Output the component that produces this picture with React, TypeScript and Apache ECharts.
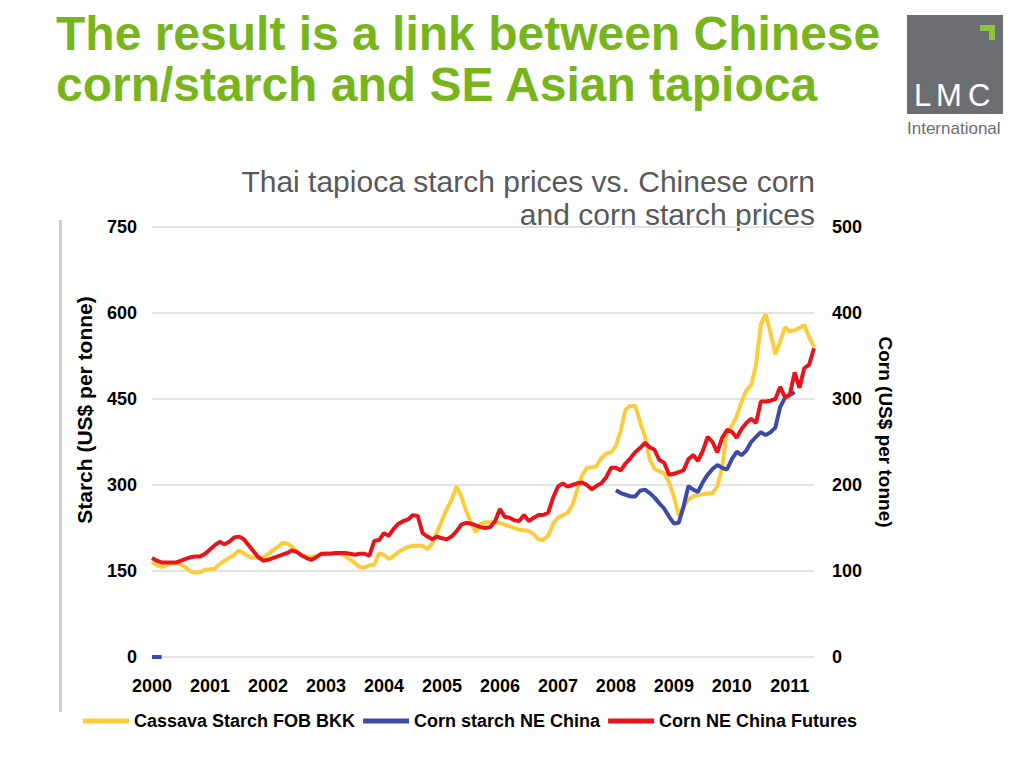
import React, { useEffect, useRef } from "react";
import * as echarts from "echarts";

const years = ["2000", "2001", "2002", "2003", "2004", "2005", "2006", "2007", "2008", "2009", "2010", "2011"];
const monthCount = 138;

const cassavaStarch = [
  166, 160, 157, 160, 163, 164, 161, 156, 149, 147, 148, 152,
  153, 154, 162, 168, 173, 178, 186, 181, 175, 173, 173, 174,
  179, 186, 192, 199, 198, 192, 184, 177, 175, 175, 176, 179,
  181, 181, 180, 180, 176, 170, 164, 157, 156, 160, 161, 181,
  178, 171, 176, 183, 188, 192, 194, 194, 194, 188, 198, 218,
  238, 258, 274, 297, 280, 255, 235, 218, 232, 235, 235, 235,
  234, 231, 228, 225, 222, 221, 220, 214, 205, 204, 212, 232,
  243, 247, 252, 265, 292, 317, 330, 331, 333, 347, 355, 357,
  368, 395, 432, 438, 438, 410, 385, 345, 328, 324, 320, 305,
  280, 247, 262, 275, 280, 283, 284, 285, 286, 298, 330, 394,
  403, 420, 445, 465, 474, 510, 580, 598, 565, 528, 550, 575,
  568, 570, 574, 579, 558, 541,
];

const cornStarch: (number | null)[] = [
  0, 0, 0, null, null, null, null, null, null, null, null, null,
  null, null, null, null, null, null, null, null, null, null, null, null,
  null, null, null, null, null, null, null, null, null, null, null, null,
  null, null, null, null, null, null, null, null, null, null, null, null,
  null, null, null, null, null, null, null, null, null, null, null, null,
  null, null, null, null, null, null, null, null, null, null, null, null,
  null, null, null, null, null, null, null, null, null, null, null, null,
  null, null, null, null, null, null, null, null, null, null, null, null,
  291, 286, 283, 280, 280, 290, 292, 286, 278, 268, 259, 245,
  233, 234, 262, 298, 292, 288, 305, 318, 328, 335, 330, 327,
  345, 358, 352, 360, 375, 384, 392, 387, 392, 400, 436, 452,
  457, 462,
];

const cornFutures = [
  115, 112, 110, 110, 110, 110, 112, 114, 116, 117, 117, 120,
  125, 130, 134, 131, 134, 139, 140, 137, 130, 123, 116, 112,
  113, 115, 117, 119, 121, 124, 122, 118, 115, 113, 116, 120,
  120, 120, 121, 121, 121, 120, 119, 120, 120, 118, 135, 136,
  144, 141, 149, 155, 158, 160, 165, 164, 144, 140, 137, 140,
  138, 137, 140, 146, 154, 156, 155, 153, 151, 150, 151, 158,
  172, 163, 162, 159, 158, 165, 158, 162, 165, 165, 168, 185,
  198, 202, 198, 200, 202, 203, 200, 195, 199, 202, 209, 220,
  220, 217, 225, 231, 238, 243, 249, 244, 241, 229, 226, 212,
  213, 215, 217, 230, 235, 228, 240, 256, 250, 238, 255, 264,
  262, 255, 265, 272, 277, 272, 297, 297, 298, 300, 314, 302,
  305, 331, 313, 336, 340, 359,
];

const starchTicks = { min: 0, max: 750, interval: 150 };
const cornTicks = { min: 0, max: 500, interval: 100 };

const months: string[] = [];
years.forEach((y) => {
  for (let m = 1; m <= 12; m++) months.push(`${y}-${m < 10 ? "0" + m : m}`);
});
const categories = months.slice(0, monthCount);

const SANS = "'Liberation Sans', Arial, Helvetica, sans-serif";

export default function App() {
  const ref = useRef<HTMLDivElement>(null);
  useEffect(() => {
    if (!ref.current) return;
    const chart = echarts.init(ref.current, undefined, { renderer: "svg" });
    const axisLabelStyle = { color: "#000", fontWeight: "bold" as const, fontSize: 18, fontFamily: SANS };
    chart.setOption({
      animation: false,
      backgroundColor: "#fff",
      grid: { left: 152, right: 210, top: 227, bottom: 111 },
      legend: {
        top: 707,
        left: 78,
        itemWidth: 46,
        itemHeight: 5,
        itemGap: 8,
        icon: "rect",
        textStyle: { color: "#000", fontWeight: "bold", fontSize: 18, fontFamily: SANS },
        data: ["Cassava Starch FOB BKK", "Corn starch NE China", "Corn NE China Futures"],
      },
      xAxis: {
        type: "category",
        data: categories,
        boundaryGap: false,
        axisLine: { show: false },
        axisTick: { show: false },
        splitLine: { show: false },
        axisLabel: {
          ...axisLabelStyle,
          margin: 20,
          interval: (index: number) => index % 12 === 0,
          formatter: (v: string) => v.slice(0, 4),
        },
      },
      yAxis: [
        {
          type: "value",
          ...starchTicks,
          axisLine: { show: false },
          axisTick: { show: false },
          axisLabel: { ...axisLabelStyle, margin: 15 },
          splitLine: { lineStyle: { color: "#e3e3e3", width: 2 } },
        },
        {
          type: "value",
          ...cornTicks,
          position: "right",
          axisLine: { show: false },
          axisTick: { show: false },
          axisLabel: { ...axisLabelStyle, margin: 18 },
          splitLine: { show: false },
        },
      ],
      series: [
        {
          name: "Cassava Starch FOB BKK",
          type: "line",
          data: cassavaStarch,
          yAxisIndex: 0,
          showSymbol: false,
          symbol: "none",
          color: "#fbcd3c",
          lineStyle: { width: 4, color: "#fbcd3c" },
        },
        {
          name: "Corn starch NE China",
          type: "line",
          data: cornStarch,
          yAxisIndex: 0,
          showSymbol: false,
          symbol: "none",
          connectNulls: false,
          color: "#3c4aa8",
          lineStyle: { width: 4, color: "#3c4aa8" },
        },
        {
          name: "Corn NE China Futures",
          type: "line",
          data: cornFutures,
          yAxisIndex: 1,
          showSymbol: false,
          symbol: "none",
          color: "#e8141c",
          lineStyle: { width: 4, color: "#e8141c" },
        },
      ],
      graphic: [
        {
          type: "text",
          left: 56,
          top: 8,
          style: {
            text: "The result is a link between Chinese\ncorn/starch and SE Asian tapioca",
            fill: "#78b51c",
            font: `bold 48px ${SANS}`,
            lineHeight: 51,
          },
        },
        {
          type: "text",
          x: 815,
          y: 165,
          style: {
            text: "Thai tapioca starch prices vs. Chinese corn\nand corn starch prices",
            fill: "#595959",
            font: `30px ${SANS}`,
            lineHeight: 33,
            align: "right",
          },
        },
        {
          type: "text",
          x: 84,
          y: 410,
          rotation: Math.PI / 2,
          style: {
            text: "Starch (US$ per tonne)",
            fill: "#000",
            font: `bold 21px ${SANS}`,
            align: "center",
            verticalAlign: "middle",
          },
        },
        {
          type: "text",
          x: 885,
          y: 432,
          rotation: -Math.PI / 2,
          style: {
            text: "Corn (US$ per tonne)",
            fill: "#000",
            font: `bold 19px ${SANS}`,
            align: "center",
            verticalAlign: "middle",
          },
        },
        {
          type: "rect",
          shape: { x: 59, y: 220, width: 3, height: 492 },
          style: { fill: "#cfcfcf" },
        },
        {
          type: "rect",
          shape: { x: 907, y: 15, width: 96, height: 99 },
          style: { fill: "#6d6e71" },
        },
        {
          type: "polygon",
          shape: { points: [[980, 25], [995, 25], [995, 40], [989, 40], [989, 31], [980, 31]] },
          style: { fill: "#8cc63f" },
        },
        {
          type: "text",
          x: 914,
          y: 80,
          style: { text: "L", fill: "#fff", font: `31px ${SANS}` },
        },
        {
          type: "text",
          x: 936,
          y: 80,
          style: { text: "M", fill: "#fff", font: `31px ${SANS}` },
        },
        {
          type: "text",
          x: 968,
          y: 80,
          style: { text: "C", fill: "#fff", font: `31px ${SANS}` },
        },
        {
          type: "text",
          x: 907,
          y: 120,
          style: { text: "International", fill: "#6d6e71", font: `17px ${SANS}` },
        },
      ],
    });
    return () => chart.dispose();
  }, []);
  return <div ref={ref} style={{ position: "fixed", left: 0, top: 0, width: 1024, height: 768 }} />;
}
